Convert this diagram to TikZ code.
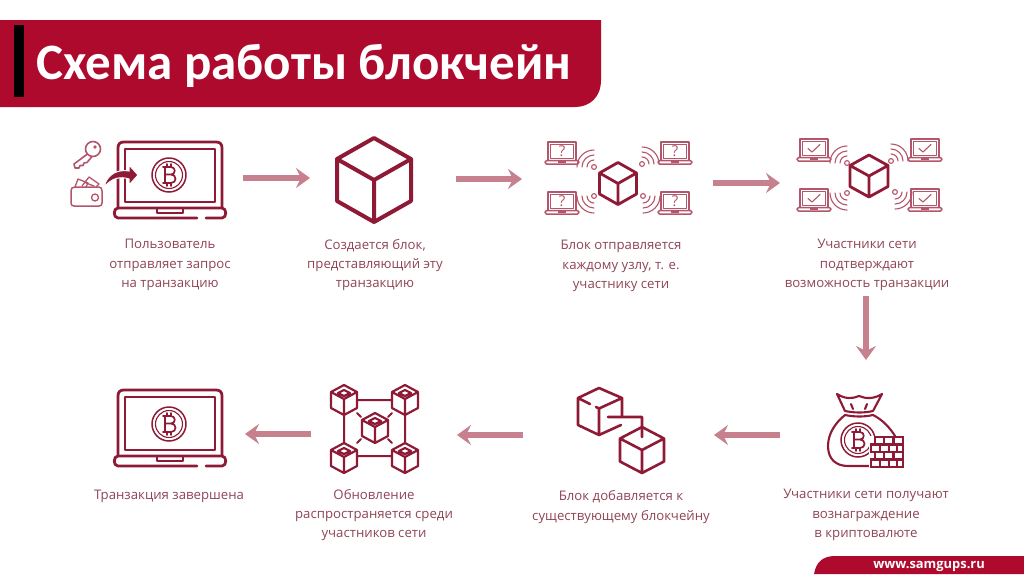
\documentclass[tikz,border=0pt]{standalone}
\usepackage{fontspec}
\setmainfont{Open Sans}
\newfontfamily\titlefont{Carlito}
\usetikzlibrary{arrows.meta,calc}
\definecolor{brand}{HTML}{AE0A2E}
\definecolor{icon}{HTML}{8E1A36}
\definecolor{lighticon}{HTML}{B4566B}
\definecolor{flow}{HTML}{C7808E}
\definecolor{label}{HTML}{8F4556}
\tikzset{
  flowarrow/.style={draw=flow,line width=5.5pt,-{Stealth[length=14pt,width=20pt,inset=5pt]}},
  caption/.style={text=label,align=center,inner sep=0pt,font=\fontsize{13.2}{19.2}\selectfont},
  iconline/.style={draw=icon,line cap=round,line join=round},
  lightline/.style={draw=lighticon,line cap=round,line join=round},
}
% hexagonal cube seen from above
\newcommand{\cubeicon}[5]{% cx cy halfwidth halfheight lw
  \begin{scope}[shift={(#1,#2)},xscale=#3,yscale=#4]
    \draw[iconline,line width=#5pt] (0,-1)--(1,-.5)--(1,.5)--(0,1)--(-1,.5)--(-1,-.5)--cycle
      (-1,-.5)--(0,0)--(1,-.5) (0,0)--(0,1);
  \end{scope}}
% small cube with diamond on the top
\newcommand{\nodecube}[2]{%
  \begin{scope}[shift={(#1,#2)}]
    \draw[iconline,line width=2.2pt] (0,-15)--(13,-8)--(13,8)--(0,15)--(-13,8)--(-13,-8)--cycle
      (-13,-8)--(0,-1)--(13,-8) (0,-1)--(0,15)
      (0,-10)--(6,-7)--(0,-4)--(-6,-7)--cycle;
  \end{scope}}
\newcommand{\btc}[3]{% cx cy scale
  \begin{scope}[shift={(#1,#2)},scale=#3]
    \draw[iconline,line width=1.5pt] (0,0) circle[radius=17];
    \draw[iconline,line width=1.1pt] (0,0) circle[radius=13.5];
    \draw[iconline,line width=1.7pt] (-4,-8)--(-4,8) (-6,-8)--(2,-8) .. controls (7,-8) and (7,-.5) .. (2,-.5) -- (-4,-.5)
      (2,-.5) .. controls (8,-.5) and (8,8) .. (2,8) -- (-6,8)
      (-2,-11)--(-2,-8) (2,-11)--(2,-8) (-2,8)--(-2,11) (2,8)--(2,11);
  \end{scope}}
\newcommand{\biglaptop}[1]{% vertical offset
  \begin{scope}[shift={(0,#1)}]
    \draw[iconline,line width=2.8pt] (118,208)--(118,148) .. controls (118,144) and (120,142) .. (124,142)
      --(216,142) .. controls (220,142) and (222,144) .. (222,148)--(222,208);
    \draw[iconline,line width=2.6pt] (125,149) rectangle (215,202);
    \draw[iconline,line width=2.8pt] (197,218)--(118,218) .. controls (113,218) and (113,208) .. (118,208)
      --(222,208) .. controls (227,208) and (227,218) .. (222,218)--(206,218);
    \draw[iconline,line width=2.2pt] (157,208)--(157,213)--(183,213)--(183,208);
  \end{scope}}
\newcommand{\smalllaptop}[2]{% x y
  \begin{scope}[shift={(#1,#2)}]
    \draw[lightline,line width=1.5pt] (3,19)--(3,1)--(31,1)--(31,19);
    \draw[lightline,line width=1pt] (5.5,3.5) rectangle (28.5,17.5);
    \draw[lightline,line width=1.5pt] (1.5,19.5)--(32.5,19.5) .. controls (34.5,19.5) and (34.5,23) .. (32.5,23)
      --(1.5,23) .. controls (-.5,23) and (-.5,19.5) .. (1.5,19.5);
    \fill[lighticon] (13,19.5) rectangle (21,22);
  \end{scope}}
\newcommand{\tick}[2]{% x y of laptop
  \draw[lightline,line width=1.1pt] ($(#1,#2)+(11,10.5)$)--($(#1,#2)+(15,14)$)--($(#1,#2)+(23,6.5)$);}
% dot with three arcs, #3 = direction in the flipped system
\newcommand{\wifi}[3]{%
  \begin{scope}[shift={(#1,#2)}]
    \draw[lightline,line width=1.1pt] (0,0) circle[radius=2.4];
    \foreach \r in {7,12,17}{
      \draw[lightline,line width=1.1pt] ({#3-45}:\r) arc[start angle={#3-45},end angle={#3+45},radius=\r];}
  \end{scope}}
\begin{document}
\begin{tikzpicture}[x=1pt,y=-1pt]
\useasboundingbox (0,0) rectangle (1024,574);
\fill[white] (0,0) rectangle (1024,574);
% header
\fill[brand] (0,20) -- (601,20) -- (601,80) .. controls (601,97) and (590,107) .. (575,107) -- (0,107) -- cycle;
\fill[black] (14,25) rectangle (24,97);
\node[anchor=west,inner sep=0pt,text=white,font=\titlefont\bfseries\fontsize{51}{56}\selectfont] (title) at (36,66) {Схема работы блокчейн};
% footer
\fill[brand] (814,574) .. controls (816,562) and (823,556) .. (835,556) -- (1024,556) -- (1024,574) -- cycle;
\node[inner sep=0pt,text=white,font=\bfseries\fontsize{12.9}{14}\selectfont] (site) at (929,566) {www.samgups.ru};

% step 1
\biglaptop{0}
\btc{169}{175}{1}
\draw[lightline,line width=1.6pt] (93,149) circle[radius=7.5];
\fill[lighticon] (95,147) circle[radius=1.8];
\draw[lightline,line width=1.6pt] (87.5,154)--(74,164)--(75,168)--(79,168)--(80,165.5)--(83,165.5)--(84,163)--(87,162.5)--(92,156.5);
\draw[lightline,line width=1.5pt] (71,191) .. controls (71,188.5) and (72,187) .. (75,187) -- (99,187) .. controls (101,187) and (102,188.5) .. (102,191)
  -- (102,203) .. controls (102,205) and (101,206) .. (99,206) -- (74,206) .. controls (72,206) and (71,205) .. (71,203) -- cycle;
\draw[lightline,line width=1.3pt] (95,197.5) circle[radius=3.5];
\draw[lightline,line width=1.3pt] (75,187)--(78,179)--(88,183)--(86,187) (82,186)--(89,177)--(99,184)--(96,187) (86,183)--(94,186);
\fill[icon,draw=white,line width=1pt] (104,187) .. controls (107,174) and (118,169) .. (129,171) -- (129,165) -- (138,175) -- (129,185) -- (129,179) .. controls (120,176) and (112,178) .. (104,187) -- cycle;

% step 2
\cubeicon{374}{180}{37}{42}{4}

% step 3
\cubeicon{618}{183.5}{18.5}{21}{2.8}
\foreach \x/\y/\n in {545/141/qa,658/141/qb,545/191/qc,658/191/qd}{
  \smalllaptop{\x}{\y}
  \node[inner sep=0pt,text=lighticon,font=\fontsize{15}{15}\selectfont] (\n) at (\x+17,\y+10.5) {?};
}
\wifi{594}{167}{225}
\wifi{642}{164}{315}
\wifi{594}{196}{135}
\wifi{643}{196}{45}

% step 4
\cubeicon{869}{176}{19}{21}{2.8}
\foreach \x/\y in {797/138,908/138,797/188,908/188}{
  \smalllaptop{\x}{\y}
  \tick{\x}{\y}
}
\wifi{847}{163}{225}
\wifi{891}{161}{315}
\wifi{847}{193}{135}
\wifi{895}{192}{45}

% step 5: reward
\draw[iconline,line width=2.1pt]
  (845,411) .. controls (855,413) and (864,413) .. (873,411)
  (845,411) -- (837,394) .. controls (845,399) and (852,399) .. (859,396) .. controls (866,399) and (874,399) .. (882,394) -- (873,411)
  (845,415) .. controls (855,417) and (864,417) .. (873,415)
  (851,404)--(853,409) (867,404)--(865,409)
  (845,415) .. controls (835,423) and (828,434) .. (828,446) .. controls (828,459) and (836,466) .. (848,466) -- (870,466)
  (873,415) .. controls (883,420) and (890,428) .. (895,436);
\btc{858}{440}{1}
\fill[white] (869,436) rectangle (904,468);
\draw[iconline,line width=2.1pt,line join=miter]
  (875,437) rectangle (903,444.5)
  (871,444.5) rectangle (903,452)
  (875,452) rectangle (903,459.5)
  (871,459.5) rectangle (903,467)
  (884,437)--(884,444.5) (893.5,437)--(893.5,444.5)
  (880,444.5)--(880,452) (889,444.5)--(889,452) (897,444.5)--(897,452)
  (884,452)--(884,459.5) (893.5,452)--(893.5,459.5)
  (880,459.5)--(880,467) (889,459.5)--(889,467) (897,459.5)--(897,467);

% step 6: two linked cubes
\draw[iconline,line width=2.6pt]
  (622,415)--(622,398)--(599,388)--(578,398)--(578,425)--(599,435)--(621,425)
  (578,398)--(590,404) (596,407)--(599,408.5)--(622,398)
  (599,408.5)--(599,435)
  (608,417)--(642,417)--(642,437);
\cubeicon{642}{450}{22}{23}{2.6}

% step 7: network of cubes
\draw[iconline,line width=2pt] (357,400)--(392,400) (357,456)--(392,456) (344,415)--(344,443) (405,415)--(405,443)
  (357,413)--(361,417) (392,413)--(388,417) (357,443)--(361,439) (392,443)--(388,439);
\nodecube{344}{400}
\nodecube{405}{400}
\nodecube{344}{458}
\nodecube{405}{458}
\nodecube{375}{428}

% step 8
\biglaptop{248}
\btc{169}{424}{1}

% arrow ends
\coordinate (a1s) at (243,178); \coordinate (a1e) at (310,178);
\coordinate (a2s) at (456,179); \coordinate (a2e) at (522,179);
\coordinate (a3s) at (713,183); \coordinate (a3e) at (780,183);
\coordinate (a4s) at (866,296); \coordinate (a4e) at (866,360);
\coordinate (a5s) at (780,435); \coordinate (a5e) at (714,435);
\coordinate (a6s) at (523,435); \coordinate (a6e) at (457,435);
\coordinate (a7s) at (311,434); \coordinate (a7e) at (245,434);
\draw[flowarrow] (a1s)--(a1e);
\draw[flowarrow] (a2s)--(a2e);
\draw[flowarrow] (a3s)--(a3e);
\draw[flowarrow] (a4s)--(a4e);
\draw[flowarrow] (a5s)--(a5e);
\draw[flowarrow] (a6s)--(a6e);
\draw[flowarrow] (a7s)--(a7e);

% captions
\node[caption] (t1) at (170,265) {Пользователь\\отправляет запрос\\на транзакцию};
\node[caption] (t2) at (375,265) {Создается блок,\\представляющий эту\\транзакцию};
\node[caption] (t3) at (621,266) {Блок отправляется\\каждому узлу, т. е.\\участнику сети};
\node[caption] (t4) at (867,265) {Участники сети\\подтверждают\\возможность транзакции};
\node[caption] (t5) at (866,515) {Участники сети получают\\вознаграждение\\в криптовалюте};
\node[caption] (t6) at (621,507) {Блок добавляется к\\существующему блокчейну};
\node[caption] (t7) at (374,515) {Обновление\\распространяется среди\\участников сети};
\node[caption] (t8) at (169,496) {Транзакция завершена};
\end{tikzpicture}
\end{document}
